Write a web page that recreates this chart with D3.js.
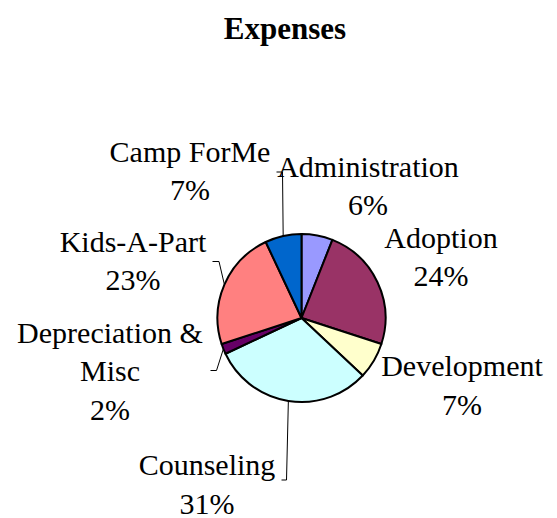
<!DOCTYPE html>
<html>
<head>
<meta charset="utf-8">
<script src="https://cdn.jsdelivr.net/npm/d3@7"></script>
<style>
  body { margin: 0; background: #fff; }
  text { font-family: "Liberation Serif", "Times New Roman", serif; fill: #000; }
</style>
</head>
<body>
<div id="wrapper"></div>
<script>
// data
const categories = ["Administration", "Adoption", "Development", "Counseling", "Depreciation & Misc", "Kids-A-Part", "Camp ForMe"]
const percents = [6, 24, 7, 31, 2, 23, 7]
const colours = ["#9999FF", "#993366", "#FFFFCC", "#CCFFFF", "#660066", "#FF8080", "#0066CC"]

// label layout (lines of text, centre x, first baseline y)
const labelLines = [
  ["Administration", "6%"],
  ["Adoption", "24%"],
  ["Development", "7%"],
  ["Counseling", "31%"],
  ["Depreciation &", "Misc", "2%"],
  ["Kids-A-Part", "23%"],
  ["Camp ForMe", "7%"],
]
const labelPos = [
  [368, 176.5], [441, 247.5], [462, 376], [207, 475], [110, 342.5], [133, 251.5], [190, 161.5]
]
// leader line start points (null = none)
const leaderStart = [
  null, null, null,
  [[281.5, 480], [286.5, 480]],
  [[210.5, 370.5], [216.5, 370.5]],
  [[212.5, 261.5], [219, 261.5]],
  [[276.5, 172], [282.5, 172]],
]

const dimensions = { width: 557, height: 518, cx: 301.5, cy: 318, radius: 84 }

const svg = d3.select("#wrapper")
  .append("svg")
    .attr("width", dimensions.width)
    .attr("height", dimensions.height)

// title
svg.append("text")
  .attr("x", 285)
  .attr("y", 38.5)
  .attr("text-anchor", "middle")
  .style("font-size", "31px")
  .style("font-weight", "bold")
  .text("Expenses")

const dataset = categories.map((c, i) => ({ name: c, value: percents[i], colour: colours[i], i }))

const pie = d3.pie().sort(null).value(d => d.value)
const arcs = pie(dataset)

const arc = d3.arc().innerRadius(0).outerRadius(dimensions.radius)
const edgeArc = d3.arc().innerRadius(dimensions.radius).outerRadius(dimensions.radius)

const bounds = svg.append("g")
  .attr("transform", `translate(${dimensions.cx},${dimensions.cy})`)

bounds.selectAll("path.slice")
  .data(arcs)
  .join("path")
    .attr("class", "slice")
    .attr("d", arc)
    .attr("fill", d => d.data.colour)
    .attr("stroke", "#000")
    .attr("stroke-width", 2)
    .attr("stroke-linejoin", "round")

// leader lines
const line = d3.line()
arcs.forEach((d, i) => {
  if (!leaderStart[i]) return
  const [ex, ey] = edgeArc.centroid(d)
  const pts = leaderStart[i].concat([[dimensions.cx + ex, dimensions.cy + ey]])
  svg.append("path")
    .attr("d", line(pts))
    .attr("fill", "none")
    .attr("stroke", "#000")
    .attr("stroke-width", 1)
})

// labels
arcs.forEach((d, i) => {
  const t = svg.append("text")
    .attr("text-anchor", "middle")
    .style("font-size", "30px")
  labelLines[i].forEach((s, j) => {
    t.append("tspan")
      .attr("x", labelPos[i][0])
      .attr("y", labelPos[i][1] + j * 38.5)
      .text(s)
  })
})
</script>
</body>
</html>
